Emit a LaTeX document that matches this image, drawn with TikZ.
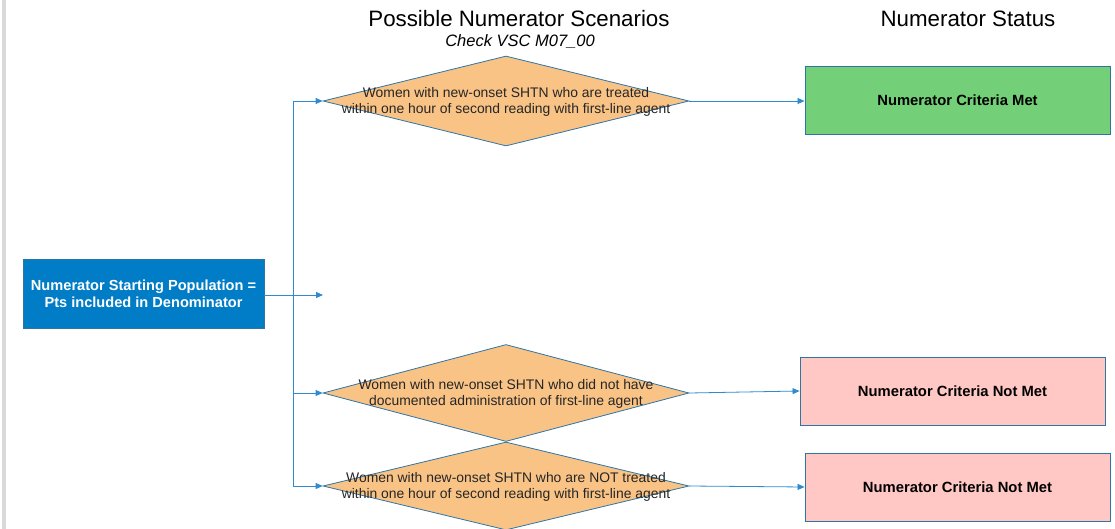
\documentclass[tikz,border=0pt]{standalone}
\usepackage{fontspec}
\setmainfont{Liberation Sans}
\usetikzlibrary{shapes.geometric,arrows.meta}
\definecolor{dfill}{HTML}{F9C386}
\definecolor{gfill}{HTML}{73D078}
\definecolor{pfill}{HTML}{FFC8C4}
\definecolor{bfill}{HTML}{007DC6}
\definecolor{edge}{HTML}{2E75A6}
\definecolor{conncol}{HTML}{2F8BD0}
\definecolor{barcol}{HTML}{D9D9D9}
\tikzset{
  dia/.style={shape=diamond, draw=edge, fill=dfill, line width=0.8pt, inner sep=0pt, minimum width=366pt, minimum height=#1},
  dtext/.style={align=center, font=\fontsize{13.9}{16}\selectfont, text=black!85, inner sep=0pt},
  res/.style={draw=edge, line width=0.9pt, fill=#1, minimum width=305pt, minimum height=68pt, font=\fontsize{14.8}{17}\selectfont\bfseries, inner sep=0pt},
  conn/.style={draw=conncol, line width=0.8pt},
  arr/.style={conn, -{Triangle[length=7pt,width=6pt]}},
  ttl/.style={font=\fontsize{22.3}{26}\selectfont, inner sep=0pt},
}
\begin{document}
\begin{tikzpicture}[x=1pt,y=-1pt]
\useasboundingbox (0,0) rectangle (1115,529);
\fill[white] (0,0) rectangle (1115,529);
\fill[barcol] (2,0) rectangle (6,529);
% titles
\node[ttl] (t1) at (519,19) {Possible Numerator Scenarios};
\node[font=\fontsize{16.5}{19}\selectfont\itshape, inner sep=0pt] (t2) at (520,42) {Check VSC M07\_00};
\node[ttl] (t3) at (968,19) {Numerator Status};
% start box
\node[draw=edge, fill=bfill, line width=0.8pt, minimum width=241pt, minimum height=69pt, text=white, align=center,
  font=\fontsize{14.6}{17}\selectfont\bfseries, inner sep=0pt] (start) at (143.5,294) {Numerator Starting Population =\\Pts included in Denominator};
% diamonds
\node[dia=90pt] (d1) at (506,101) {};
\node[dtext] (d1t) at (506,102) {Women with new-onset SHTN who are treated\\within one hour of second reading with first-line agent};
\node[dia=97pt] (d2) at (506,393) {};
\node[dtext] (d2t) at (506,394) {Women with new-onset SHTN who did not have\\documented administration of first-line agent};
\node[dia=88pt] (d3) at (506,486) {};
\node[dtext] (d3t) at (506,487) {Women with new-onset SHTN who are NOT treated\\within one hour of second reading with first-line agent};
% results
\node[res=gfill] (r1) at (957.5,100.5) {Numerator Criteria Met};
\node[res=pfill] (r2) at (952.5,391) {Numerator Criteria Not Met};
\node[res=pfill] (r3) at (957.5,487) {Numerator Criteria Not Met};
% connectors
\coordinate (j) at (293,295);
\coordinate (e) at (323,295);
\draw[arr] (start.east |- j) -- (e);
\draw[conn] (j |- d1.west) -- (j |- d3.west);
\draw[arr] (j |- d1.west) -- (d1.west);
\draw[arr] (j |- d2.west) -- (d2.west);
\draw[arr] (j |- d3.west) -- (d3.west);
\draw[arr] (d1.east) -- (r1.west |- d1.east);
\draw[arr] (d2.east) -- (r2.west);
\draw[arr] (d3.east) -- (r3.west);
\end{tikzpicture}
\end{document}
